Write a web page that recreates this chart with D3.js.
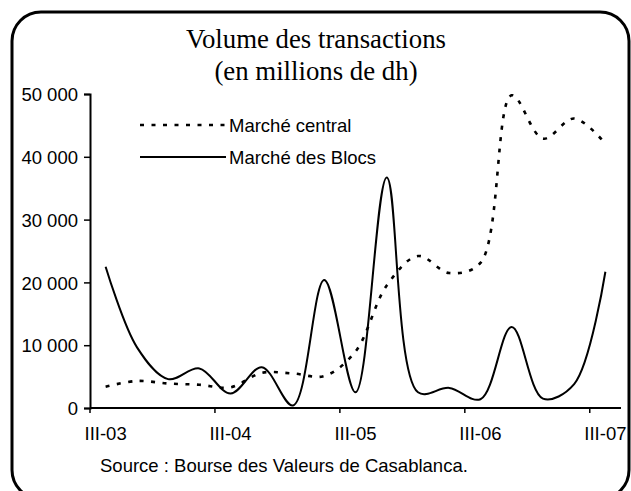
<!DOCTYPE html>
<html>
<head>
<meta charset="utf-8">
<script src="https://cdn.jsdelivr.net/npm/d3@7"></script>
<style>
    body { margin: 0; background: #fff; }
    svg { display: block; }
    .axis text { font-family: "Liberation Sans", Arial, sans-serif; font-size: 18.5px; fill: #000; }
</style>
</head>
<body>
<div id="chart"></div>
<script>
// quarters, III-03 .. III-07
var quarters = ["III-03", "IV-03", "I-04", "II-04", "III-04", "IV-04", "I-05", "II-05", "III-05",
    "IV-05", "I-06", "II-06", "III-06", "IV-06", "I-07", "II-07", "III-07"];
var marcheCentral = [3400, 4300, 3900, 3700, 3300, 5600, 5500, 5100, 9000,
    19500, 24200, 21500, 23100, 49800, 42900, 46100, 42100];
var marcheBlocs = [22500, 9700, 4600, 6300, 2300, 6500, 400, 20400, 2500,
    36700, 2500, 3200, 1400, 12900, 1500, 3800, 21700];
var yTicks = [0, 10000, 20000, 30000, 40000, 50000];
var xLabels = ["III-03", "III-04", "III-05", "III-06", "III-07"];
var seriesNames = ["Marché central", "Marché des Blocs"];

var width = 631, height = 491;
var margin = {left: 90, right: 10, top: 94, bottom: 83};

var svg = d3.select("#chart").append("svg")
    .attr("width", width).attr("height", height);

// rounded frame
svg.append("rect")
    .attr("x", 12).attr("y", 12)
    .attr("width", 617).attr("height", 487)
    .attr("rx", 29).attr("ry", 29)
    .attr("fill", "none").attr("stroke", "#000").attr("stroke-width", 3);

// title
var title = svg.append("text")
    .attr("text-anchor", "middle")
    .attr("font-family", "'Liberation Serif', 'Times New Roman', serif")
    .attr("font-size", 26.8);
title.append("tspan").attr("x", 316).attr("y", 48).text("Volume des transactions");
title.append("tspan").attr("x", 316).attr("y", 80).text("(en millions de dh)");

var x = d3.scaleBand().domain(quarters).range([margin.left, width - margin.right]).padding(0);
var y = d3.scaleLinear().domain([0, 50000]).range([height - margin.bottom, margin.top]);

var locale = d3.formatLocale({decimal: ",", thousands: " ", grouping: [3], currency: ["", ""]});
var fmt = locale.format(",d");

// y axis
var yAxis = svg.append("g")
    .attr("class", "axis")
    .attr("transform", "translate(" + margin.left + ",0)")
    .call(d3.axisLeft(y).tickValues(yTicks).tickFormat(fmt).tickSize(6).tickPadding(6));
yAxis.selectAll("path").attr("stroke-width", 2);
yAxis.selectAll("line").attr("stroke-width", 1.5);
yAxis.selectAll("text").attr("dy", "0.36em");

// x axis: labels at category centres, tick marks between categories
var xAxis = svg.append("g")
    .attr("class", "axis")
    .attr("transform", "translate(0," + y(0) + ")")
    .call(d3.axisBottom(x).tickValues(xLabels).tickSize(0).tickPadding(19));
xAxis.select("path").attr("stroke-width", 2).attr("d", "M" + margin.left + ",0H" + (width - margin.right));
xAxis.selectAll(".tickmark")
    .data(xLabels)
    .enter().append("line")
    .attr("class", "tickmark")
    .attr("x1", function(d){ return x(d); })
    .attr("x2", function(d){ return x(d); })
    .attr("y1", 0).attr("y2", 5)
    .attr("stroke", "#000").attr("stroke-width", 1.5);

var line = d3.line()
    .x(function(d, i){ return x(quarters[i]) + x.bandwidth() / 2; })
    .y(function(d){ return y(d); })
    .curve(d3.curveCatmullRom);

svg.append("path")
    .datum(marcheCentral)
    .attr("d", line)
    .attr("fill", "none")
    .attr("stroke", "#000")
    .attr("stroke-width", 2.6)
    .attr("stroke-dasharray", "4,7.5");

svg.append("path")
    .datum(marcheBlocs)
    .attr("d", line)
    .attr("fill", "none")
    .attr("stroke", "#000")
    .attr("stroke-width", 2);

// legend
var legend = svg.append("g");
[{dash: "4,7.5", w: 2.6, y: 125}, {dash: null, w: 2, y: 157}].forEach(function(s, i){
    legend.append("line")
        .attr("x1", 140).attr("x2", 226)
        .attr("y1", s.y).attr("y2", s.y)
        .attr("stroke", "#000").attr("stroke-width", s.w)
        .attr("stroke-dasharray", s.dash);
    legend.append("text")
        .attr("x", 229).attr("y", s.y)
        .attr("dy", "0.36em")
        .attr("font-family", "'Liberation Sans', Arial, sans-serif")
        .attr("font-size", 18.5)
        .text(seriesNames[i]);
});

// source
svg.append("text")
    .attr("x", 100).attr("y", 472)
    .attr("font-family", "'Liberation Sans', Arial, sans-serif")
    .attr("font-size", 18.5)
    .text("Source : Bourse des Valeurs de Casablanca.");
</script>
</body>
</html>
